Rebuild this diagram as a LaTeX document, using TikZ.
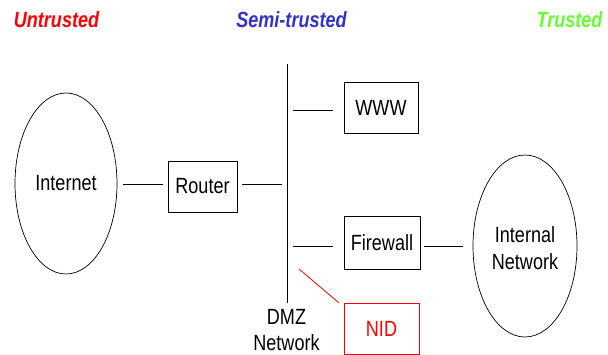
\documentclass[tikz,border=0pt]{standalone}
\usepackage{fontspec}
\setmainfont{Liberation Sans}[FakeStretch=0.82]
\usetikzlibrary{shapes.geometric}
\definecolor{untr}{HTML}{FF0000}
\definecolor{semi}{HTML}{3333CC}
\definecolor{trus}{HTML}{66FF33}
\begin{document}
\begin{tikzpicture}[x=1pt,y=-1pt,
  every node/.style={font=\fontsize{22}{26}\selectfont},
  cloud/.style={draw,ellipse,line width=0.7pt,inner sep=0pt,align=center},
  devbox/.style={draw,rectangle,line width=0.7pt,inner sep=0pt},
  conn/.style={draw,line width=0.8pt},
  zone/.style={font=\fontsize{22}{26}\selectfont\bfseries\itshape}]
\useasboundingbox (0,0) rectangle (608,355);
% zone titles
\node[zone,text=untr,anchor=base] (tU) at (56.5,27.5) {Untrusted};
\node[zone,text=semi,anchor=base] (tS) at (291.5,27.5) {Semi-trusted};
\node[zone,text=trus,anchor=base] (tT) at (569.5,27.5) {Trusted};
% nodes
\node[cloud,minimum width=102pt,minimum height=181pt] (inet) at (66,183.5) {Internet};
\node[cloud,minimum width=104pt,minimum height=182pt] (intnet) at (525,246) {};
\node[align=center,font=\fontsize{22}{27}\selectfont] (intlbl) at (525,248.5) {Internal\\Network};
\node[devbox,minimum width=69pt,minimum height=51pt] (router) at (202.5,186.5) {Router};
\node[devbox,minimum width=74pt,minimum height=51pt] (www) at (381,107.5) {WWW};
\node[devbox,minimum width=76pt,minimum height=53pt] (fw) at (382,243) {Firewall};
\node[devbox,draw=untr,text=untr,minimum width=75pt,minimum height=51pt] (nid) at (381.5,328.5) {NID};
% DMZ bus
\coordinate (dmztop) at (287,64);
\coordinate (dmzbot) at (287,303);
\node[align=center] (dmzlbl) at (286.5,330.5) {DMZ\\Network};
\draw[conn] (dmztop) -- (dmzbot);
\coordinate (tapR) at (287,184);
\coordinate (tapW) at (287,110);
\coordinate (tapF) at (287,246);
\coordinate (tapN) at (299,269);
% connectors
\draw[conn] ([xshift=6pt]inet.east |- tapR) -- ([xshift=-5pt]router.west |- tapR);
\draw[conn] ([xshift=5pt]router.east |- tapR) -- ([xshift=-5pt]tapR);
\draw[conn] ([xshift=6pt]tapW) -- ([xshift=-11pt]www.west |- tapW);
\draw[conn] ([xshift=6pt]tapF) -- ([xshift=-11pt]fw.west |- tapF);
\draw[conn] ([xshift=4pt]fw.east |- tapF) -- ([xshift=-10pt]intnet.west |- tapF);
\draw[conn,draw=untr] (tapN) -- ([xshift=-5pt]nid.north west);
\end{tikzpicture}
\end{document}
